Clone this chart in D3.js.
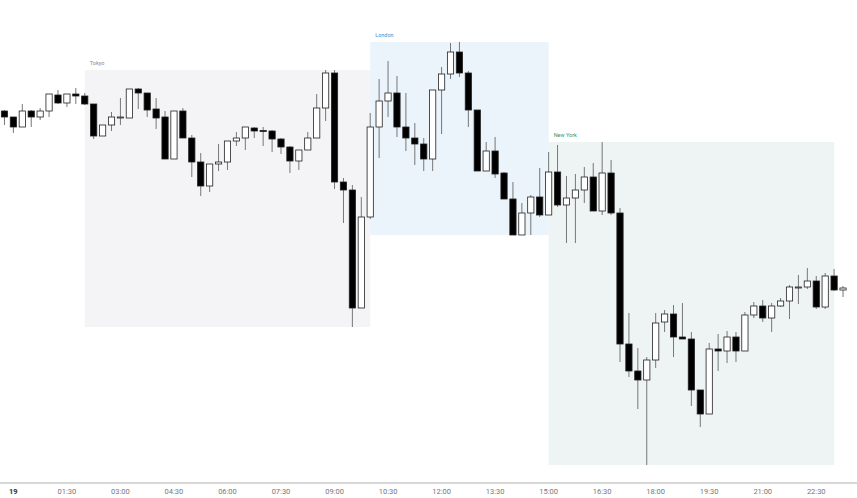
<!DOCTYPE html>
<html>
<head>
<meta charset="utf-8">
<script src="https://cdn.jsdelivr.net/npm/d3@7"></script>
<style>
  body { margin: 0; background: #fff; }
  svg { display: block; }
</style>
</head>
<body>
<svg width="857" height="498"></svg>
<script>
// 15 minute candles, first one is 23:45 of the previous day
const startTime = '2024-03-18T23:45:00Z';
const stepMinutes = 15;

const opens = [389, 383, 373, 389, 383, 389, 405, 397, 406, 404, 396, 364, 375, 382.5, 382, 411, 407, 391, 383, 341,
  389, 362, 338, 314, 336, 338, 359, 362, 372, 369.5, 369, 361, 353, 339, 350, 362, 392, 427, 318, 310,
  192, 283, 373, 399, 407, 373, 362, 356, 341, 410, 426, 448, 427, 390, 329, 349, 327, 301, 265, 287,
  303, 285, 328, 295, 302, 310, 323, 289, 327, 287, 156, 129, 120, 140, 178, 186, 163, 161, 110, 86,
  151, 149, 163, 149, 185, 194, 182, 194, 199, 212.5, 213, 219, 193, 224, 210];
const highs = [390, 383, 396, 390, 392, 406, 410, 406, 412, 407, 396, 375, 388, 402, 411, 412, 407, 402, 389, 389,
  392, 365, 347, 336, 356, 359, 368, 373, 373, 373, 370, 362, 354, 350, 368, 406, 430, 430, 322, 315,
  303, 387, 421, 439, 424, 407, 377, 362, 410, 433, 457, 458, 429, 390, 358, 363, 328, 318, 297, 305,
  332, 348, 355, 324, 326, 333, 337, 358, 340, 292, 187, 152, 143, 187, 190, 195, 197, 168, 110, 157,
  166, 169, 168, 188, 198, 200, 197, 202, 215, 225, 232, 224, 227, 231, 214];
const lows = [375, 367, 373, 373, 380, 383, 396, 393, 396, 395, 361, 364, 369, 375, 382, 391, 383, 371, 341, 341,
  362, 323, 304, 308, 329, 330, 354, 350, 362, 354, 348, 346, 327, 330, 350, 362, 379, 311, 277, 173,
  192, 281, 342, 383, 363, 349, 335, 329, 329, 366, 421, 423, 373, 329, 329, 322, 301, 265, 265, 265,
  283, 285, 293, 257, 257, 297, 289, 285, 285, 138, 123, 91, 35, 132, 168, 143, 161, 94, 73, 86,
  129, 137, 138, 149, 182, 178, 168, 193, 181, 196, 211, 191, 191, 209, 203];
const closes = [383, 373, 389, 383, 389, 406, 397, 406, 404, 396, 364, 375, 383, 383, 411, 407, 390, 382, 341, 389,
  362, 338, 314, 336, 338, 359, 362, 373, 369, 369, 361, 353, 339, 350, 362, 392, 427, 318, 310, 192,
  283, 373, 399, 407, 373, 362, 356, 341, 410, 426, 448, 427, 390, 329, 349, 326, 301, 265, 287, 303,
  285, 328, 295, 302, 310, 323, 289, 327, 287, 156, 129, 120, 140, 177, 186, 163, 161, 110, 86, 151,
  149, 163, 149, 185, 194, 182, 194, 199, 213, 213, 219, 193, 224, 210, 212];

// trading sessions (UTC)
const sessionNames = ['Tokyo', 'London', 'New York'];
const sessionStarts = ['2024-03-19T02:00:00Z', '2024-03-19T10:00:00Z', '2024-03-19T15:00:00Z'];
const sessionEnds = ['2024-03-19T10:00:00Z', '2024-03-19T15:00:00Z', '2024-03-19T23:00:00Z'];
const sessionFills = ['#f4f4f6', '#ebf3fb', '#edf4f3'];
const sessionText = ['#8a8a8a', '#3d8fcc', '#2a9a78'];

// axis labels
const tickTimes = ['00:00', '01:30', '03:00', '04:30', '06:00', '07:30', '09:00', '10:30',
  '12:00', '13:30', '15:00', '16:30', '18:00', '19:30', '21:00', '22:30'];
const tickLabels = ['19', '01:30', '03:00', '04:30', '06:00', '07:30', '09:00', '10:30',
  '12:00', '13:30', '15:00', '16:30', '18:00', '19:30', '21:00', '22:30'];

const width = 857;
const height = 498;

const t0 = new Date(startTime);
const candles = opens.map((o, i) => ({
  date: d3.utcMinute.offset(t0, i * stepMinutes),
  open: o,
  high: highs[i],
  low: lows[i],
  close: closes[i]
}));

const x = d3.scaleUtc()
  .domain([new Date('2024-03-18T23:37:30Z'), new Date('2024-03-19T23:38:30Z')])
  .range([0, width]);
const y = d3.scaleLinear()
  .domain([0, 500])
  .range([500, 0]);

const stepPx = x(d3.utcMinute.offset(t0, stepMinutes)) - x(t0);
const bodyW = stepPx * 0.7;

const svg = d3.select('svg');

// session boxes: span the session's high / low
const sessions = sessionNames.map((name, i) => {
  const s = new Date(sessionStarts[i]);
  const e = new Date(sessionEnds[i]);
  const inside = candles.filter(c => c.date >= s && c.date < e);
  return {name, s, e, hi: d3.max(inside, c => c.high), lo: d3.min(inside, c => c.low), i};
});

const sg = svg.append('g');
sg.selectAll('rect')
  .data(sessions)
  .enter()
  .append('rect')
  .attr('x', d => x(d.s))
  .attr('width', d => x(d.e) - x(d.s))
  .attr('y', d => y(d.hi))
  .attr('height', d => y(d.lo) - y(d.hi))
  .attr('fill', d => sessionFills[d.i]);
sg.selectAll('text')
  .data(sessions)
  .enter()
  .append('text')
  .attr('x', d => x(d.s) + 5)
  .attr('y', d => y(d.hi) - 5)
  .attr('font-family', 'Roboto, sans-serif')
  .attr('font-size', 5.5)
  .attr('fill', d => sessionText[d.i])
  .text(d => d.name);

// candles
const cg = svg.append('g')
  .selectAll('g')
  .data(candles)
  .enter()
  .append('g')
  .attr('transform', d => `translate(${x(d.date)},0)`);

cg.append('line')
  .attr('y1', d => y(d.high))
  .attr('y2', d => y(d.low))
  .attr('stroke', '#777')
  .attr('stroke-width', 1);

cg.append('rect')
  .attr('x', -bodyW / 2)
  .attr('width', bodyW)
  .attr('y', d => y(Math.max(d.open, d.close)))
  .attr('height', d => Math.max(1, Math.abs(y(d.open) - y(d.close))))
  .attr('fill', d => d.close < d.open ? '#000' : '#fff')
  .attr('stroke', '#222')
  .attr('stroke-width', 0.8);

// time axis
const axisY = 483;
svg.append('line')
  .attr('x1', 0)
  .attr('x2', width)
  .attr('y1', axisY)
  .attr('y2', axisY)
  .attr('stroke', '#b0b0b0')
  .attr('stroke-width', 1);

const ticks = tickTimes.map((t, i) => ({date: new Date('2024-03-19T' + t + ':00Z'), label: tickLabels[i], i}));
svg.append('g')
  .selectAll('text')
  .data(ticks)
  .enter()
  .append('text')
  .attr('x', d => x(d.date))
  .attr('y', axisY + 11)
  .attr('text-anchor', 'middle')
  .attr('font-family', 'Roboto, sans-serif')
  .attr('font-size', 7.5)
  .attr('font-weight', d => d.i === 0 ? 'bold' : 'normal')
  .attr('fill', d => d.i === 0 ? '#333' : '#777')
  .text(d => d.label);
</script>
</body>
</html>
